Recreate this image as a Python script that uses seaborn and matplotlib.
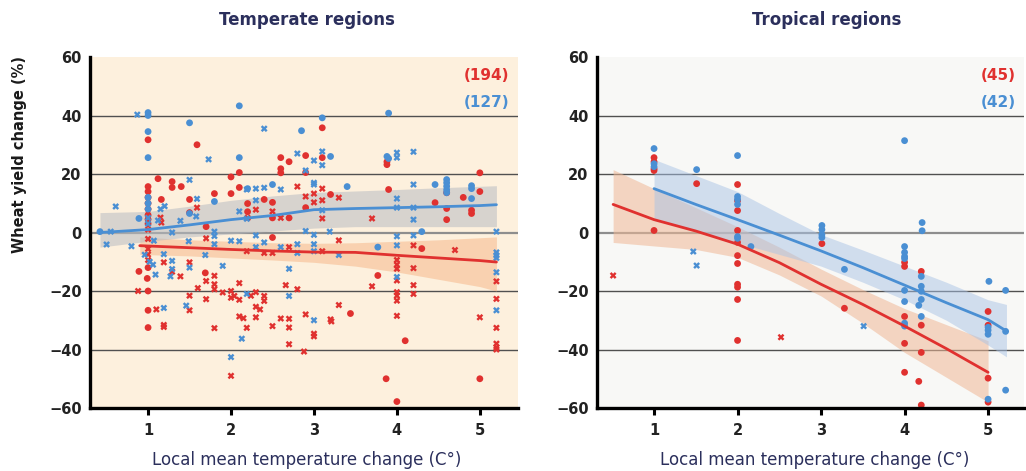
import matplotlib
matplotlib.use("Agg")
import matplotlib.pyplot as plt
import pandas as pd
import seaborn as sns
from matplotlib import font_manager

# ---------------------------------------------------------------- data
# (local warming in °C, wheat yield change in %)
temperate_red_dots = [
    (1.0, 31.7), (1.59, 30.0), (1.12, 18.4), (1.29, 17.4), (1.29, 15.4), (1.4, 15.7),
    (1.0, 15.7), (1.0, 14.0), (1.0, 12.0), (1.0, 10.0), (1.0, 8.0), (1.0, 6.0),
    (1.0, 4.5), (1.0, 3.0), (1.8, 13.3), (2.0, 13.3), (1.16, 11.3), (1.5, 11.3),
    (1.5, 6.8), (1.7, 2.0), (2.0, 19.0), (2.1, 20.5), (2.1, 15.4), (2.2, 9.9),
    (2.2, 7.1), (2.4, 11.3), (2.5, 10.3), (2.5, 5.0), (2.6, 25.6), (2.6, 21.8),
    (2.6, 20.4), (2.7, 24.2), (2.7, 5.0), (2.9, 26.3), (2.9, 20.5), (2.9, 8.5),
    (3.1, 35.8), (3.1, 25.6), (3.2, 13.0), (3.88, 24.2), (3.88, 23.2), (3.9, 14.7),
    (4.46, 10.2), (4.6, 13.6), (4.6, 8.2), (4.6, 4.4), (4.8, 12.0), (5.0, 14.0),
    (4.9, 7.6), (4.9, 6.5), (5.0, 20.4),
    (0.89, -13.3), (0.99, -15.7), (1.0, -20.0), (1.0, -26.6), (1.0, -32.5),
    (1.0, -12.0), (1.69, -13.8), (2.5, -1.7), (3.44, -27.7), (3.77, -14.7),
    (3.87, -50.0), (4.0, -57.8), (4.1, -37.0), (4.3, -5.5), (5.0, -50.0),
]
temperate_red_crosses = [
    (1.15, 5.1), (1.16, 3.4), (1.59, 8.5), (2.2, 5.0), (2.3, 7.8), (2.5, 7.2),
    (2.6, 5.0), (2.8, 15.7), (2.9, 12.3), (3.0, 13.3), (3.1, 15.0), (3.1, 11.0),
    (3.1, 4.8), (3.3, 11.9), (3.0, 10.3), (3.7, 4.8), (1.0, 1.0),
    (1.0, -2.2), (1.0, -5.6), (1.0, -9.4), (1.0, -7.5), (0.88, -20.0), (1.1, -26.3),
    (1.19, -10.2), (1.19, -31.6), (1.19, -32.3), (1.29, -13.4), (1.39, -15.0),
    (1.5, -10.2), (1.5, -21.6), (1.5, -26.6), (1.6, -19.0), (1.7, -2.0),
    (1.7, -16.6), (1.7, -22.8), (1.8, -14.8), (1.8, -17.7), (1.8, -19.4),
    (1.8, -32.7), (1.9, -20.5), (2.0, -20.0), (2.0, -22.3), (2.0, -49.0),
    (2.04, -21.7), (2.1, -17.3), (2.1, -23.0), (2.1, -28.7), (2.15, -29.3),
    (2.19, -32.6), (2.19, -6.4), (2.24, -21.6), (2.3, -20.4), (2.3, -25.4),
    (2.35, -26.3), (2.3, -29.0), (2.4, -21.7), (2.4, -23.4), (2.4, -7.0),
    (2.5, -7.0), (2.5, -32.0), (2.6, -29.4), (2.66, -18.0), (2.7, -5.0),
    (2.7, -32.5), (2.7, -38.2), (2.7, -29.5), (2.8, -19.4), (2.88, -40.7),
    (2.9, -28.0), (3.0, -34.6), (3.0, -35.5), (3.1, -6.4), (3.2, -29.7),
    (3.21, -30.4), (3.3, -2.7), (3.3, -24.8), (3.7, -18.4), (4.0, -9.4),
    (4.0, -11.0), (4.0, -12.4), (4.0, -16.4), (4.0, -20.4), (4.0, -21.6),
    (4.0, -23.3), (4.0, -28.5), (4.2, -4.4), (4.2, -12.2), (4.2, -18.0),
    (4.2, -21.0), (4.7, -6.0), (5.0, -29.0), (5.2, -16.7), (5.2, -22.7),
    (5.2, -32.6), (5.2, -38.0), (5.2, -39.3), (5.2, -40.0),
]
temperate_blue_dots = [
    (1.0, 41.0), (1.0, 40.0), (1.5, 37.5), (1.0, 34.5), (1.0, 25.6), (2.1, 43.3),
    (2.1, 25.6), (1.8, 10.6), (0.89, 4.8), (0.42, 0.3), (2.5, 16.4), (2.2, 15.0),
    (2.85, 34.8), (3.1, 39.2), (3.2, 26.0), (3.4, 15.7), (3.9, 40.8), (3.88, 26.0),
    (3.9, 25.3), (4.3, 0.3), (4.46, 16.4), (4.6, 18.1), (4.6, 17.0), (4.6, 15.8),
    (4.6, 14.6), (4.6, 13.6), (4.9, 16.0), (4.9, 15.0), (4.9, 11.6), (1.0, 12.0),
    (1.0, 10.0), (1.0, 8.0), (1.5, 6.5), (3.77, -5.0),
]
temperate_blue_crosses = [
    (0.87, 40.3), (0.61, 8.9), (1.73, 25.0), (1.5, 18.0), (1.59, 11.5), (1.15, 8.0),
    (1.2, 9.0), (1.12, 4.1), (1.39, 4.0), (1.58, 5.5), (1.8, 0.3), (0.55, 0.3),
    (1.29, 0.0), (2.1, 7.2), (2.19, 14.7), (2.19, 4.7), (2.3, 15.0), (2.3, 11.0),
    (2.4, 35.5), (2.4, 15.3), (2.6, 14.7), (2.8, 27.0), (2.9, 21.2), (3.0, 24.6),
    (3.0, 17.0), (3.0, 16.4), (3.1, 27.7), (3.1, 23.0), (3.1, 7.6), (4.0, 27.3),
    (4.0, 25.6), (4.0, 11.6), (4.0, 8.5), (4.2, 27.6), (4.2, 16.4), (4.2, 8.5),
    (4.2, 4.4), (5.2, 0.3), (2.9, 0.5), (3.19, 0.3), (1.0, 5.0), (1.0, 3.0),
    (0.5, -4.1), (0.8, -4.7), (0.96, -7.6), (1.02, -10.0), (1.06, -11.0),
    (1.07, -2.8), (1.09, -14.4), (1.19, -7.4), (1.19, -25.8), (1.29, -9.7),
    (1.29, -12.5), (1.27, -15.0), (1.49, -3.0), (1.5, -12.0), (1.46, -25.0),
    (1.69, -7.7), (1.8, -1.2), (1.8, -4.0), (1.9, -11.4), (2.0, -2.8),
    (2.0, -42.6), (2.1, -3.0), (2.13, -36.3), (2.19, -21.0), (2.3, -1.0),
    (2.3, -5.0), (2.4, -3.4), (2.6, -5.0), (2.7, -12.4), (2.7, -21.7),
    (2.8, -4.0), (2.8, -7.0), (3.0, -0.8), (3.0, -4.0), (3.0, -6.4), (3.0, -30.0),
    (3.3, -7.7), (4.0, -1.3), (4.0, -4.4), (4.0, -15.2), (4.2, -1.0),
    (5.2, -6.8), (5.2, -7.8), (5.2, -8.7), (5.2, -13.6), (5.2, -26.6),
]

tropical_red_dots = [
    (1.0, 25.6), (1.0, 24.2), (1.0, 21.8), (1.0, 21.2), (1.0, 0.7), (1.51, 16.7),
    (2.0, 16.4), (2.0, 10.9), (2.0, 7.5), (2.0, 0.7), (2.0, -3.4), (2.0, -7.9),
    (2.0, -10.6), (2.0, -17.7), (2.0, -18.7), (2.0, -22.9), (2.0, -36.9),
    (3.01, -3.8), (3.28, -25.9), (4.0, -10.2), (4.0, -11.6), (4.0, -28.7),
    (4.0, -37.9), (4.0, -47.8), (4.17, -50.9), (4.2, -59.0), (4.2, -13.3),
    (4.2, -31.7), (4.2, -41.0), (5.0, -27.0), (5.0, -31.7), (5.0, -49.8),
    (5.0, -58.0),
]
tropical_red_crosses = [(0.51, -14.7), (2.52, -35.8)]
tropical_blue_dots = [
    (1.0, 28.7), (1.0, 23.5), (1.0, 22.5), (1.51, 21.5), (2.0, 26.3), (2.0, 12.3),
    (2.0, 11.3), (2.0, 9.6), (2.0, -1.4), (2.0, -2.0), (2.16, -4.8), (3.01, 2.4),
    (3.01, 1.0), (3.01, -0.7), (3.01, -1.7), (3.28, -12.6), (4.0, 31.4),
    (4.0, -4.8), (4.0, -6.8), (4.0, -8.2), (4.0, -8.9), (4.0, -19.8), (4.0, -23.6),
    (4.0, -31.0), (4.0, -32.0), (4.21, 3.4), (4.21, 0.6), (4.2, -15.0),
    (4.2, -18.4), (4.2, -20.1), (4.2, -22.9), (4.17, -24.9), (4.2, -28.7),
    (5.01, -16.7), (5.0, -32.4), (5.0, -33.4), (5.0, -34.8), (5.0, -57.0),
    (5.21, -19.8), (5.21, -33.8), (5.21, -53.9),
]
tropical_blue_crosses = [(1.47, -6.5), (1.51, -11.3), (3.51, -32.0)]

# fitted response curves with their confidence bands
temperate_blue_fit_x = [0.42, 1.0, 1.5, 2.0, 2.5, 3.0, 3.5, 4.0, 4.5, 5.0, 5.2]
temperate_blue_fit_y = [0.0, 1.0, 2.6, 4.4, 5.8, 7.8, 8.2, 8.5, 8.8, 9.2, 9.5]
temperate_blue_fit_lo = [-5.0, -3.0, -1.5, -0.5, 0.5, 1.5, 2.0, 2.0, 2.0, 2.0, 2.0]
temperate_blue_fit_hi = [6.8, 7.2, 9.0, 11.0, 12.5, 13.7, 14.2, 14.7, 15.3, 15.8, 16.0]

temperate_red_fit_x = [0.9, 1.5, 2.0, 2.5, 3.0, 3.5, 4.0, 4.5, 5.0, 5.2]
temperate_red_fit_y = [-4.5, -5.2, -5.8, -6.3, -6.7, -6.8, -7.8, -8.7, -9.6, -10.1]
temperate_red_fit_lo = [-7.5, -8.0, -8.7, -9.4, -10.2, -11.5, -13.5, -16.0, -18.5, -20.0]
temperate_red_fit_hi = [-1.5, -2.5, -3.0, -3.5, -3.7, -3.5, -3.0, -2.5, -1.8, -1.5]

tropical_red_fit_x = [0.51, 1.0, 1.5, 2.0, 2.5, 3.0, 3.5, 4.0, 4.5, 5.0]
tropical_red_fit_y = [9.6, 4.4, 0.5, -4.0, -10.3, -17.7, -24.6, -32.0, -39.7, -47.8]
tropical_red_fit_lo = [-3.4, -4.6, -5.8, -8.5, -14.5, -21.7, -31.0, -41.0, -49.5, -58.0]
tropical_red_fit_hi = [21.5, 15.0, 8.5, 2.0, -5.0, -12.5, -19.5, -26.0, -31.5, -37.0]

tropical_blue_fit_x = [1.0, 1.5, 2.0, 2.5, 3.0, 3.5, 4.0, 4.5, 5.0, 5.22]
tropical_blue_fit_y = [15.0, 9.6, 4.4, -0.9, -6.3, -12.0, -18.0, -24.0, -29.8, -33.7]
tropical_blue_fit_lo = [5.0, 0.5, -3.5, -7.5, -11.5, -17.0, -23.0, -30.0, -38.5, -42.5]
tropical_blue_fit_hi = [25.0, 19.5, 14.0, 6.5, -0.7, -6.0, -11.5, -17.0, -23.0, -24.6]

panel_titles = ["Temperate regions", "Tropical regions"]
red_counts = ["(194)", "(45)"]
blue_counts = ["(127)", "(42)"]
x_ticks = [1, 2, 3, 4, 5]
y_ticks = [-60, -40, -20, 0, 20, 40, 60]
grid_levels = [-40, -20, 20, 40]
x_label = "Local mean temperature change (C°)"
y_label = "Wheat yield change (%)"

# ---------------------------------------------------------------- style
RED = "#e0312f"
BLUE = "#4a8fd3"
NAVY = "#2b2f5c"

sns.set_theme(style="white")
available = {f.name for f in font_manager.fontManager.ttflist}
base_font = "Liberation Sans Narrow" if "Liberation Sans Narrow" in available else "DejaVu Sans"
plt.rcParams["font.family"] = [base_font, "DejaVu Sans"]


def points_frame(red_dots, red_crosses, blue_dots, blue_crosses):
    rows = []
    for series, marker, pts in [("red", "dot", red_dots), ("red", "cross", red_crosses),
                                ("blue", "dot", blue_dots), ("blue", "cross", blue_crosses)]:
        for x, y in pts:
            rows.append({"warming": x, "change": y, "series": series, "marker": marker})
    return pd.DataFrame(rows)


panels = [
    dict(points=points_frame(temperate_red_dots, temperate_red_crosses,
                             temperate_blue_dots, temperate_blue_crosses),
         fits=[(temperate_red_fit_x, temperate_red_fit_y, temperate_red_fit_lo,
                temperate_red_fit_hi, RED, "#f6b98c", 0.55),
               (temperate_blue_fit_x, temperate_blue_fit_y, temperate_blue_fit_lo,
                temperate_blue_fit_hi, BLUE, "#b9bcc2", 0.55)],
         bg="#fdf0dd", xlim=(0.30, 5.46),
         rect=[90 / 1026, 63 / 471, 428 / 1026, 351 / 471],
         title_x=0.507, label_x=0.507),
    dict(points=points_frame(tropical_red_dots, tropical_red_crosses,
                             tropical_blue_dots, tropical_blue_crosses),
         fits=[(tropical_red_fit_x, tropical_red_fit_y, tropical_red_fit_lo,
                tropical_red_fit_hi, RED, "#f0b896", 0.55),
               (tropical_blue_fit_x, tropical_blue_fit_y, tropical_blue_fit_lo,
                tropical_blue_fit_hi, BLUE, "#a9c3e6", 0.5)],
         bg="#f8f8f6", xlim=(0.317, 5.43),
         rect=[597 / 1026, 63 / 471, 427 / 1026, 351 / 471],
         title_x=0.539, label_x=0.509),
]

fig = plt.figure(figsize=(10.26, 4.71), dpi=100)

for i, p in enumerate(panels):
    ax = fig.add_axes(p["rect"])
    ax.set_facecolor(p["bg"])

    for level in grid_levels:
        ax.axhline(level, color="#505050", lw=1.0, zorder=1)
    ax.axhline(0, color="#8e8e8e", lw=1.6, zorder=1)

    for fx, fy, lo, hi, line_c, band_c, alpha in p["fits"]:
        ax.fill_between(fx, lo, hi, color=band_c, alpha=alpha, lw=0, zorder=2)

    sns.scatterplot(data=p["points"], x="warming", y="change", hue="series",
                    style="marker", palette={"red": RED, "blue": BLUE},
                    markers={"dot": "o", "cross": "X"}, s=24, linewidth=0,
                    legend=False, ax=ax, zorder=3)

    for fx, fy, lo, hi, line_c, band_c, alpha in p["fits"]:
        sns.lineplot(x=fx, y=fy, color=line_c, lw=2.0, ax=ax, zorder=4)

    ax.set_xlim(*p["xlim"])
    ax.set_ylim(-60, 60)
    ax.set_xticks(x_ticks)
    ax.set_yticks(y_ticks)
    ax.set_xlabel("")
    ax.set_ylabel("")
    ax.tick_params(axis="x", length=5, width=2.2, color="black", pad=6,
                   labelsize=10.5, labelcolor="#222222", bottom=True)
    ax.tick_params(axis="y", length=0, pad=6, labelsize=10.5, labelcolor="#222222")
    for lab in ax.get_xticklabels() + ax.get_yticklabels():
        lab.set_fontweight("bold")

    for side in ["top", "right"]:
        ax.spines[side].set_visible(False)
    for side in ["left", "bottom"]:
        ax.spines[side].set_color("black")
        ax.spines[side].set_linewidth(2.4)
        ax.spines[side].set_zorder(5)

    ax.text(p["title_x"], 1.105, panel_titles[i], transform=ax.transAxes,
            ha="center", va="center", fontsize=12, fontweight="bold", color=NAVY)
    ax.text(p["label_x"], -0.148, x_label, transform=ax.transAxes,
            ha="center", va="center", fontsize=12, color=NAVY)
    ax.text(0.98, 0.946, red_counts[i], transform=ax.transAxes, ha="right",
            va="center", fontsize=11, fontweight="bold", color=RED)
    ax.text(0.98, 0.869, blue_counts[i], transform=ax.transAxes, ha="right",
            va="center", fontsize=11, fontweight="bold", color=BLUE)

fig.text(20 / 1026, 1 - 155 / 471, y_label, rotation=90, ha="center", va="center",
         fontsize=10.5, fontweight="bold", color="#1a1a1a")

fig.savefig("out.png", dpi=100)
